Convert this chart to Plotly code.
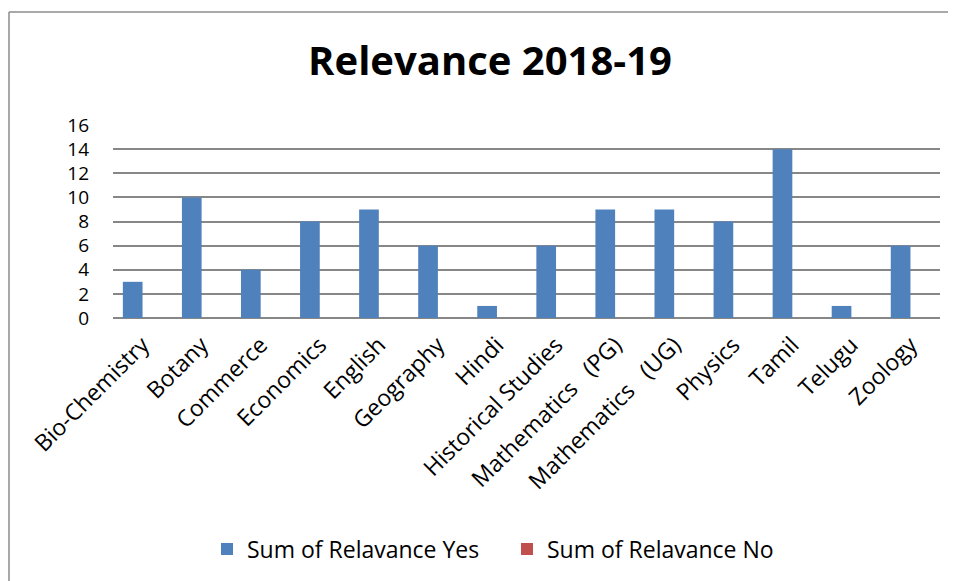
import plotly.graph_objects as go

categories = ["Bio-Chemistry", "Botany", "Commerce", "Economics", "English", "Geography",
              "Hindi", "Historical Studies", "Mathematics   (PG)", "Mathematics   (UG)",
              "Physics", "Tamil", "Telugu", "Zoology"]
yes_values = [3, 10, 4, 8, 9, 6, 1, 6, 9, 9, 8, 14, 1, 6]
no_values = [0, 0, 0, 0, 0, 0, 0, 0, 0, 0, 0, 0, 0, 0]
y_ticks = [0, 2, 4, 6, 8, 10, 12, 14, 16]

FONT = "Open Sans"
OFF = 8  # default body margin of the html page
W, H = 956 - OFF, 581 - OFF

fig = go.Figure()
fig.add_trace(go.Bar(x=categories, y=yes_values, name="Sum of Relavance Yes",
                     marker=dict(color="#4F81BD", line=dict(width=0))))
fig.add_trace(go.Bar(x=categories, y=no_values, name="Sum of Relavance No",
                     marker=dict(color="#C0504D", line=dict(width=0))))

# plot area in page pixels: x 113..940, y 125..318
L, R, T, B = 113 - OFF, 956 - 940, 125 - OFF, 581 - 318
pw = W - L - R
ph = H - T - B

def px_x(x):
    return (x - OFF - L) / pw

def px_y(y):
    return (581 - B - y) / ph

fig.update_layout(
    width=W, height=H,
    margin=dict(l=L, r=R, t=T, b=B, autoexpand=False),
    paper_bgcolor="white", plot_bgcolor="white",
    barmode="group", bargap=1/3, bargroupgap=0,
    font=dict(family=FONT, color="black", size=20),
    title=dict(text="<b>Relevance 2018-19</b>", font=dict(family=FONT, size=40, color="black"),
               xref="paper", x=px_x(490), xanchor="center",
               yref="container", y=1 - (61 - OFF) / H, yanchor="middle"),
    legend=dict(orientation="h", xref="paper", x=px_x(507), xanchor="center",
                y=px_y(549), yanchor="middle", font=dict(size=23, family=FONT),
                traceorder="normal", entrywidth=255, entrywidthmode="pixels"),
    showlegend=True,
    shapes=[
        dict(type="line", xref="paper", yref="paper", x0=px_x(9), x1=px_x(970),
             y0=px_y(12), y1=px_y(12), line=dict(color="#8C8C8C", width=1.5)),
        dict(type="line", xref="paper", yref="paper", x0=px_x(9), x1=px_x(9),
             y0=px_y(12), y1=px_y(600), line=dict(color="#8C8C8C", width=1.5)),
    ],
)
fig.update_xaxes(tickangle=-45, showgrid=False, showline=False, ticks="",
                 ticklabelstandoff=8, tickfont=dict(size=23, family=FONT))
fig.update_yaxes(range=[0, 16], tickvals=y_ticks, showgrid=True, gridcolor="#878787",
                 gridwidth=1.5, zeroline=True, zerolinecolor="#878787", zerolinewidth=1.5,
                 showline=False, ticks="", ticklabelstandoff=23,
                 tickfont=dict(size=19, family=FONT))

fig.write_html("out.html")
